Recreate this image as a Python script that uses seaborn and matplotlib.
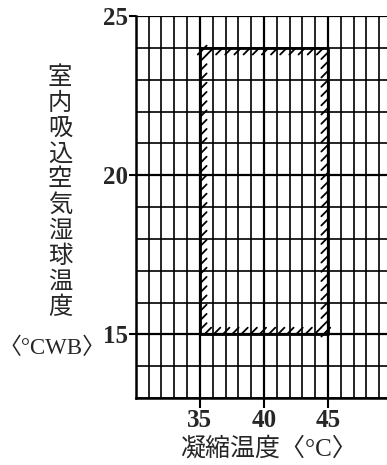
import matplotlib
matplotlib.use("Agg")
import matplotlib.pyplot as plt
import matplotlib.patheffects as pe
import pandas as pd
import seaborn as sns

sns.set_style("white")
plt.rcParams['font.family'] = ['Liberation Serif', 'Noto Sans CJK JP', 'DejaVu Sans']

# Operating range (hatched frame)
cond_range = [35, 45]   # 凝縮温度 (°C)
wb_range = [15, 24]     # 室内吸込空気湿球温度 (°CWB)

x_ticks = [35, 40, 45]
y_ticks = [15, 20, 25]
x_lim = [30, 49.6]
y_lim = [13, 25]

y_label = "室内吸込空気湿球温度"
y_unit = "〈°CWB〉"
x_label = "凝縮温度〈°C〉"

fig = plt.figure(figsize=(3.87, 4.65), dpi=100)
ax = fig.add_axes([0.351, 0.144, 0.649, 0.8216])

# fine grid, 1 degree spacing
ax.set_xticks(x_ticks)
ax.set_yticks(y_ticks)
ax.set_xticks(range(x_lim[0], 50), minor=True)
ax.set_yticks(range(y_lim[0], y_lim[1] + 1), minor=True)
ax.grid(which='minor', color='black', linewidth=1.2)
ax.grid(which='major', color='black', linewidth=1.6)
ax.set_xlim(x_lim)
ax.set_ylim(y_lim)

# hatched frame: one edge at a time so the ticks sit inside
edges = [
    (cond_range, [wb_range[0]] * 2, 45),
    (cond_range, [wb_range[1]] * 2, -135),
    ([cond_range[0]] * 2, wb_range, -45),
    ([cond_range[1]] * 2, wb_range, 135),
]
for xs, ys, ang in edges:
    df = pd.DataFrame({'x': xs, 'y': ys})
    sns.lineplot(data=df, x='x', y='y', ax=ax, sort=False, estimator=None,
                 color='black', linewidth=2.0,
                 path_effects=[pe.withTickedStroke(angle=ang, spacing=6.5, length=1.05,
                                                   linewidth=1.3)])

ax.set_xlabel('')
ax.set_ylabel('')
for side in ['top', 'right']:
    ax.spines[side].set_visible(False)
for side in ['left', 'bottom']:
    ax.spines[side].set_color('black')
    ax.spines[side].set_linewidth(1.8)

ax.tick_params(axis='x', which='major', bottom=True, length=7, width=1.5, pad=1,
               labelsize=18, direction='out', color='black')
ax.tick_params(axis='y', which='major', left=True, length=5, width=1.5, pad=0.5,
               labelsize=18, direction='out', color='black')
ax.tick_params(which='minor', length=0)
for lab in ax.get_xticklabels() + ax.get_yticklabels():
    lab.set_fontweight('bold')

# vertical y-axis caption, one character per row
for i, ch in enumerate(y_label):
    fig.text(60 / 387, 1 - (77 + i * 25.6) / 465, ch, ha='center', va='center',
             fontsize=17.5, family=['Noto Sans CJK JP'])
fig.text(52 / 387, 1 - 348 / 465, y_unit, ha='center', va='center', fontsize=16.5)
fig.text(268 / 387, 1 - 449 / 465, x_label, ha='center', va='center', fontsize=18)

fig.savefig('out.png', dpi=100)
